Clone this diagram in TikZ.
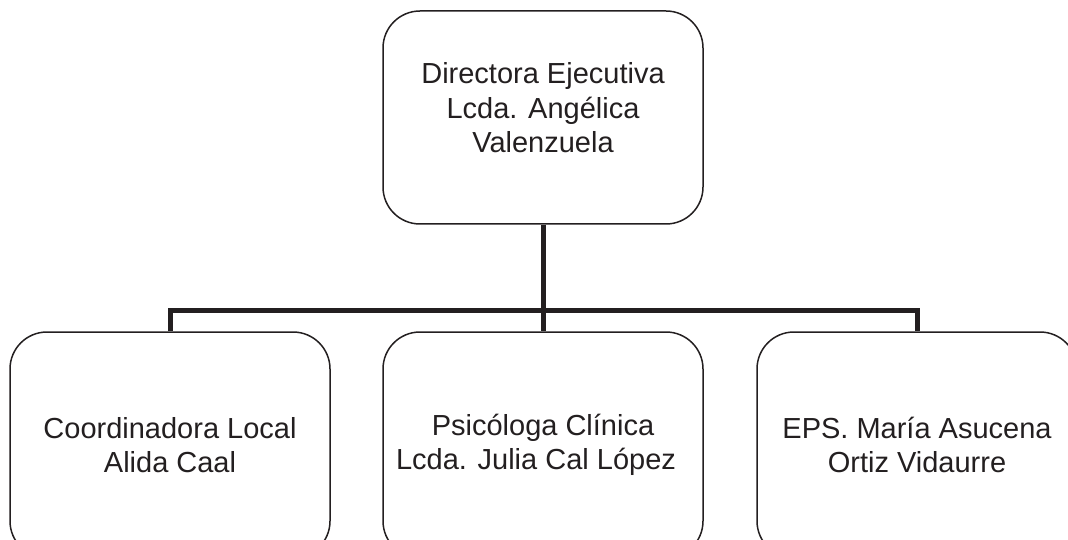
\documentclass[tikz,border=0pt]{standalone}
\usepackage{fontspec}
\setmainfont{Liberation Sans}
\definecolor{ink}{HTML}{231F20}
\begin{document}
\begin{tikzpicture}[x=1pt,y=-1pt,
  box/.style={draw=ink,line width=1.5pt,rounded corners=37pt,minimum width=320pt,inner sep=0pt},
  lbl/.style={text=ink,align=center,font=\fontsize{29}{34.5}\selectfont},
  conn/.style={draw=ink,line width=5pt,line join=miter}]
\useasboundingbox (0,0) rectangle (1068,540);
\node[box,minimum height=213pt] (top) at (543,117.5) {};
\node[box,minimum height=226pt] (left) at (170,445) {};
\node[box,minimum height=226pt] (mid) at (543,445) {};
\node[box,minimum height=226pt] (right) at (917,445) {};
\coordinate (bar) at (543,310);
\draw[conn] (top.south) -- (mid.north);
\draw[conn] (left.north) |- (bar) -| (right.north);
\node[lbl] (ttop) at (543,108) {Directora Ejecutiva\\Lcda. Angélica\\Valenzuela};
\node[lbl] (tleft) at (170,445) {Coordinadora Local\\Alida Caal};
\node[lbl] (tmid) at (543,445) {Psicóloga Clínica\\Lcda. Julia Cal López\hspace*{14pt}};
\node[lbl] (tright) at (917,445) {EPS. María Asucena\\Ortiz Vidaurre};
\end{tikzpicture}
\end{document}
